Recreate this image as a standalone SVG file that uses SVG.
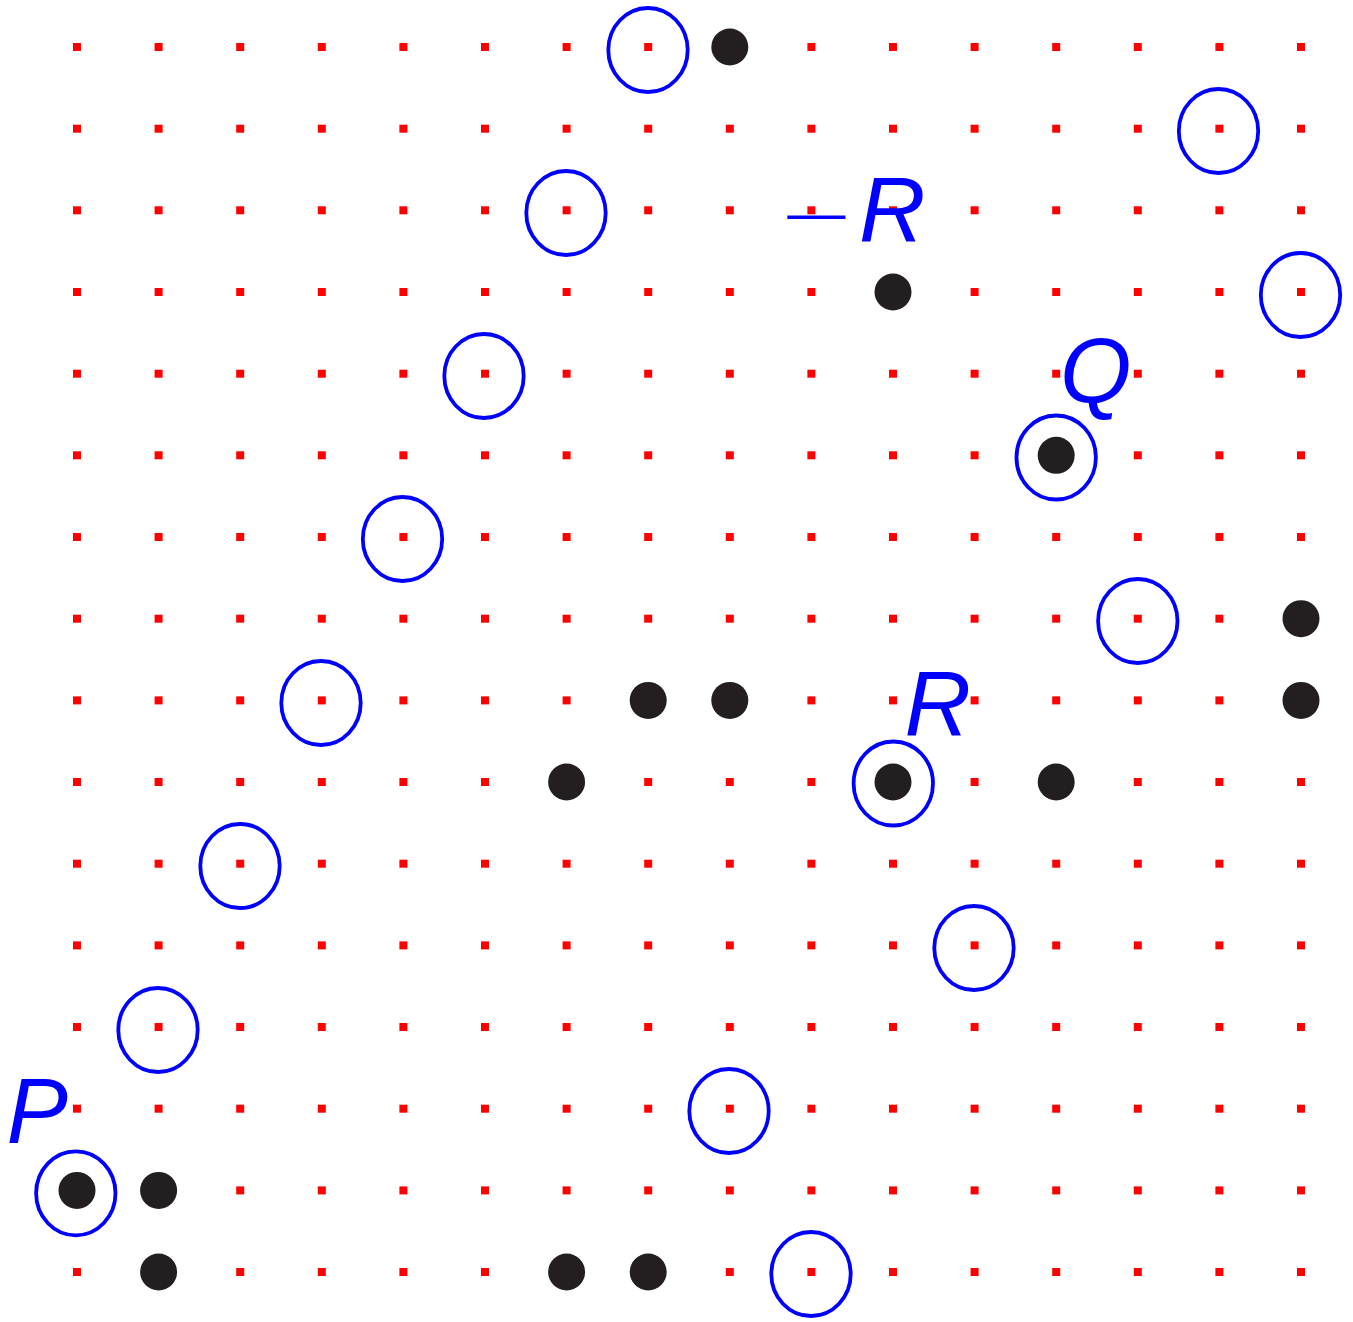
<svg xmlns="http://www.w3.org/2000/svg" xmlns:xlink="http://www.w3.org/1999/xlink" width="1353" height="1322" viewBox="0 0 1353 1322">
<style>
.g{fill:#ff0000}
.b{fill:#231f20}
.c{fill:none;stroke:#0000ff;stroke-width:3.8}
.t{font-family:"Liberation Sans",Arial,sans-serif;font-style:italic;font-size:92px;fill:#0000ff}
.m{font-family:"Liberation Sans",Arial,sans-serif;font-size:92px;fill:#0000ff}
</style>
<defs>
<g id="row">
<rect class="g" x="73" y="-4" width="8" height="8"/><rect class="g" x="154.6" y="-4" width="8" height="8"/><rect class="g" x="236.2" y="-4" width="8" height="8"/><rect class="g" x="317.8" y="-4" width="8" height="8"/><rect class="g" x="399.4" y="-4" width="8" height="8"/><rect class="g" x="481" y="-4" width="8" height="8"/><rect class="g" x="562.6" y="-4" width="8" height="8"/><rect class="g" x="644.2" y="-4" width="8" height="8"/><rect class="g" x="725.8" y="-4" width="8" height="8"/><rect class="g" x="807.4" y="-4" width="8" height="8"/><rect class="g" x="889" y="-4" width="8" height="8"/><rect class="g" x="970.6" y="-4" width="8" height="8"/><rect class="g" x="1052.2" y="-4" width="8" height="8"/><rect class="g" x="1133.8" y="-4" width="8" height="8"/><rect class="g" x="1215.4" y="-4" width="8" height="8"/><rect class="g" x="1297" y="-4" width="8" height="8"/>
</g>
</defs>
<rect width="1353" height="1322" fill="#ffffff"/>
<g id="grid">
<use xlink:href="#row" href="#row" y="47"/>
<use xlink:href="#row" href="#row" y="128.7"/>
<use xlink:href="#row" href="#row" y="210.3"/>
<use xlink:href="#row" href="#row" y="292"/>
<use xlink:href="#row" href="#row" y="373.7"/>
<use xlink:href="#row" href="#row" y="455.3"/>
<use xlink:href="#row" href="#row" y="537"/>
<use xlink:href="#row" href="#row" y="618.7"/>
<use xlink:href="#row" href="#row" y="700.4"/>
<use xlink:href="#row" href="#row" y="782"/>
<use xlink:href="#row" href="#row" y="863.7"/>
<use xlink:href="#row" href="#row" y="945.4"/>
<use xlink:href="#row" href="#row" y="1027"/>
<use xlink:href="#row" href="#row" y="1108.7"/>
<use xlink:href="#row" href="#row" y="1190.4"/>
<use xlink:href="#row" href="#row" y="1272"/>
</g>
<g id="points">
<g id="pt-1"><circle class="b" cx="729.8" cy="47" r="18.5"/></g>
<g id="pt-2"><circle class="b" cx="893" cy="292" r="18.5"/></g>
<g id="pt-3"><circle class="b" cx="1056.2" cy="455.3" r="18.5"/></g>
<g id="pt-4"><circle class="b" cx="1301" cy="618.7" r="18.5"/></g>
<g id="pt-5"><circle class="b" cx="648.2" cy="700.4" r="18.5"/></g>
<g id="pt-6"><circle class="b" cx="729.8" cy="700.4" r="18.5"/></g>
<g id="pt-7"><circle class="b" cx="1301" cy="700.4" r="18.5"/></g>
<g id="pt-8"><circle class="b" cx="566.6" cy="782" r="18.5"/></g>
<g id="pt-9"><circle class="b" cx="893" cy="782" r="18.5"/></g>
<g id="pt-10"><circle class="b" cx="1056.2" cy="782" r="18.5"/></g>
<g id="pt-11"><circle class="b" cx="77" cy="1190.4" r="18.5"/></g>
<g id="pt-12"><circle class="b" cx="158.6" cy="1190.4" r="18.5"/></g>
<g id="pt-13"><circle class="b" cx="158.6" cy="1272" r="18.5"/></g>
<g id="pt-14"><circle class="b" cx="566.6" cy="1272" r="18.5"/></g>
<g id="pt-15"><circle class="b" cx="648.2" cy="1272" r="18.5"/></g>
</g>
<g id="rings">
<g id="ring-1"><ellipse class="c" cx="648" cy="50" rx="39.7" ry="42"/></g>
<g id="ring-2"><ellipse class="c" cx="1218.5" cy="131" rx="39.7" ry="42"/></g>
<g id="ring-3"><ellipse class="c" cx="566" cy="213" rx="39.7" ry="42"/></g>
<g id="ring-4"><ellipse class="c" cx="1300.5" cy="295" rx="39.7" ry="42"/></g>
<g id="ring-5"><ellipse class="c" cx="484" cy="376" rx="39.7" ry="42"/></g>
<g id="ring-6"><ellipse class="c" cx="1056.2" cy="457.5" rx="39.7" ry="42"/></g>
<g id="ring-7"><ellipse class="c" cx="402.5" cy="539" rx="39.7" ry="42"/></g>
<g id="ring-8"><ellipse class="c" cx="1137.8" cy="621" rx="39.7" ry="42"/></g>
<g id="ring-9"><ellipse class="c" cx="321" cy="703" rx="39.7" ry="42"/></g>
<g id="ring-10"><ellipse class="c" cx="893.3" cy="783.5" rx="39.7" ry="42"/></g>
<g id="ring-11"><ellipse class="c" cx="240" cy="866" rx="39.7" ry="42"/></g>
<g id="ring-12"><ellipse class="c" cx="974" cy="948" rx="39.7" ry="42"/></g>
<g id="ring-13"><ellipse class="c" cx="158" cy="1030" rx="39.7" ry="42"/></g>
<g id="ring-14"><ellipse class="c" cx="729" cy="1111" rx="39.7" ry="42"/></g>
<g id="ring-15"><ellipse class="c" cx="75.8" cy="1193.3" rx="39.7" ry="42"/></g>
<g id="ring-16"><ellipse class="c" cx="811" cy="1274" rx="39.7" ry="42"/></g>
</g>
<g id="labels">
<g id="label-P"><text class="t" x="6.5" y="1143">P</text></g>
<g id="label-Q"><text class="t" x="1060" y="402">Q</text></g>
<g id="label-R"><text class="t" x="904.5" y="736">R</text></g>
<g id="label-negR">
<text class="m" transform="translate(788,217.7) scale(1.3,0.52)" x="-4.6" y="29.9">−</text>
<text class="t" x="859" y="242">R</text>
</g>
</g>
</svg>
